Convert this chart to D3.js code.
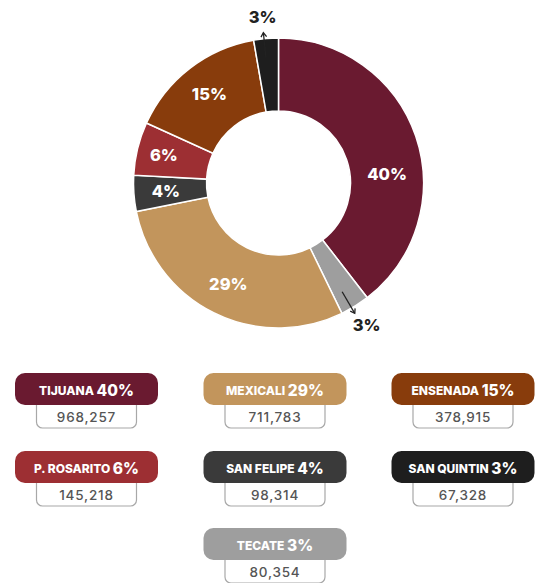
<!DOCTYPE html>
<html>
<head>
<meta charset="utf-8">
<script src="https://cdn.jsdelivr.net/npm/d3@7"></script>
<style>
  html, body { margin: 0; padding: 0; background: #fff; }
  svg { display: block; font-family: Inter, "Open Sans", sans-serif; }
</style>
</head>
<body>
<svg id="chart" width="539" height="583"></svg>
<script>
// ---- data ----
const names    = ["TIJUANA", "MEXICALI", "ENSENADA", "P. ROSARITO", "SAN FELIPE", "SAN QUINTIN", "TECATE"];
const values   = [968257, 711783, 378915, 145218, 98314, 67328, 80354];
const percents = [40, 29, 15, 6, 4, 3, 3];
const colors   = ["#6a1a30", "#c2955c", "#883c0c", "#9d2f33", "#3a3a3a", "#1e1e1e", "#9e9e9e"];
// clockwise order of slices starting at 12 o'clock
const pieOrder = ["TIJUANA", "TECATE", "MEXICALI", "SAN FELIPE", "P. ROSARITO", "ENSENADA", "SAN QUINTIN"];
const outsideLabels = ["TECATE", "SAN QUINTIN"];

const data = names.map((n, i) => ({ name: n, value: values[i], pct: percents[i], color: colors[i] }));
const byName = new Map(data.map(d => [d.name, d]));
const ordered = pieOrder.map(n => byName.get(n));

const svg = d3.select("#chart");
const cx = 278.5, cy = 183, rOuter = 145, rInner = 72;
const g = svg.append("g").attr("transform", `translate(${cx},${cy})`);

const pie = d3.pie().value(d => d.value).sort(null);
const arc = d3.arc().innerRadius(rInner).outerRadius(rOuter);
const arcs = pie(ordered);

g.selectAll("path.slice").data(arcs).join("path")
  .attr("class", "slice")
  .attr("d", arc)
  .attr("fill", d => d.data.color)
  .attr("stroke", "#fff")
  .attr("stroke-width", 1.5);

const polar = (a, r) => [r * Math.sin(a), -r * Math.cos(a)];
const deg = Math.PI / 180;

// inside labels
const inside = arcs.filter(d => !outsideLabels.includes(d.data.name));
g.selectAll("text.in").data(inside).join("text")
  .attr("class", "in")
  .each(function(d) {
    let a = (d.startAngle + d.endAngle) / 2;
    let r = 113;
    if (d.data.name === "TIJUANA") { a = 85 * deg; r = 109; }
    if (d.data.name === "P. ROSARITO") { r = 118; }
    const [x, y] = polar(a, r);
    d3.select(this).attr("x", x).attr("y", y);
  })
  .attr("text-anchor", "middle")
  .attr("dominant-baseline", "central")
  .attr("fill", "#fff")
  .attr("font-size", 16.5)
  .attr("font-weight", 800)
  .text(d => d.data.pct + "%");

// outside labels with arrows
const outside = arcs.filter(d => outsideLabels.includes(d.data.name));
outside.forEach(d => {
  const mid = (d.startAngle + d.endAngle) / 2;
  const aArrow = d.data.name === "TECATE" ? mid + 1.5 * deg : mid - 0.8 * deg;
  const [x1, y1] = polar(aArrow, 126);
  const [x2, y2] = polar(aArrow, 151);
  g.append("line").attr("x1", x1).attr("y1", y1).attr("x2", x2).attr("y2", y2)
    .attr("stroke", "#222").attr("stroke-width", 1.3);
  const ang = Math.atan2(y2 - y1, x2 - x1);
  const hl = 5, spread = 0.6;
  const p1 = [x2 - hl * Math.cos(ang - spread), y2 - hl * Math.sin(ang - spread)];
  const p2 = [x2 - hl * Math.cos(ang + spread), y2 - hl * Math.sin(ang + spread)];
  g.append("path")
    .attr("d", `M${p1[0]},${p1[1]}L${x2},${y2}L${p2[0]},${p2[1]}`)
    .attr("fill", "none").attr("stroke", "#222").attr("stroke-width", 1.3);
  const aLab = d.data.name === "TECATE" ? mid : mid - 0.5 * deg;
  const [lx, ly] = polar(aLab, 167);
  g.append("text").attr("x", lx).attr("y", ly)
    .attr("text-anchor", "middle").attr("dominant-baseline", "central")
    .attr("fill", "#222").attr("font-size", 16.5).attr("font-weight", 800)
    .text(d.data.pct + "%");
});

// ---- legend cards ----
const legendOrder = ["TIJUANA", "MEXICALI", "ENSENADA", "P. ROSARITO", "SAN FELIPE", "SAN QUINTIN", "TECATE"];
const colCenters = [86.5, 275, 463];
const rowTops = [373, 451, 528];
const cardW = 143, cardH = 32, valW = 100, valH = 23;
const fmt = d3.format(",");

legendOrder.forEach((n, i) => {
  const d = byName.get(n);
  const col = i < 6 ? i % 3 : 1;
  const row = Math.floor(i / 3);
  const xc = colCenters[col], yt = rowTops[row];
  const lg = svg.append("g");
  lg.append("rect")
    .attr("x", xc - valW / 2).attr("y", yt + cardH - 8)
    .attr("width", valW).attr("height", valH + 8)
    .attr("rx", 6).attr("fill", "#fff")
    .attr("stroke", "#a8a8a8").attr("stroke-width", 1.2);
  lg.append("text")
    .attr("x", xc).attr("y", yt + cardH + valH / 2)
    .attr("text-anchor", "middle").attr("dominant-baseline", "central")
    .attr("fill", "#555").attr("font-size", 13.5).attr("font-weight", 500)
    .attr("letter-spacing", 0.8)
    .text(fmt(d.value));
  lg.append("rect")
    .attr("x", xc - cardW / 2).attr("y", yt)
    .attr("width", cardW).attr("height", cardH)
    .attr("rx", 10).attr("fill", d.color);
  const t = lg.append("text")
    .attr("x", xc).attr("y", yt + cardH / 2 + 1)
    .attr("text-anchor", "middle").attr("dominant-baseline", "central")
    .attr("fill", "#fff").attr("font-weight", 800);
  t.append("tspan").attr("font-size", 12).text(d.name + " ");
  t.append("tspan").attr("font-size", 15.5).text(d.pct + "%");
});
</script>
</body>
</html>
